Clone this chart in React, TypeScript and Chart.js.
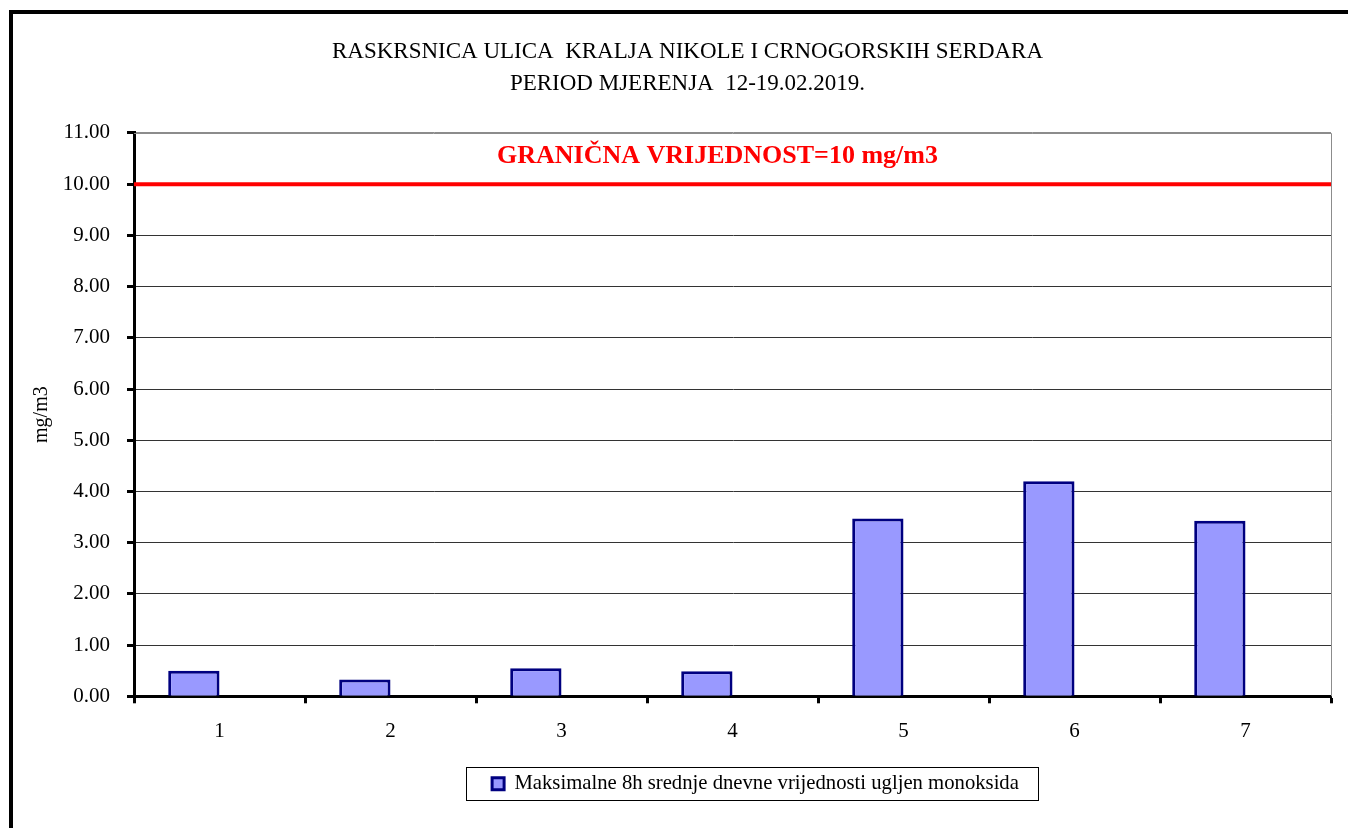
import React, { useEffect, useRef } from "react";
import { Chart, registerables } from "chart.js";

Chart.register(...registerables);

const TITLE_LINES = [
  "RASKRSNICA ULICA  KRALJA NIKOLE I CRNOGORSKIH SERDARA",
  "PERIOD MJERENJA  12-19.02.2019.",
];
const DAYS = ["1", "2", "3", "4", "5", "6", "7"];
const CO_VALUES = [0.5, 0.33, 0.55, 0.49, 3.47, 4.2, 3.43];
// second (empty) series slot that Excel reserves next to each bar
const EMPTY_SERIES = [null, null, null, null, null, null, null];
const SERIES_LABEL = "Maksimalne 8h srednje dnevne vrijednosti ugljen monoksida";
const LIMIT_VALUE = 10;
const LIMIT_LABEL = "GRANIČNA VRIJEDNOST=10 mg/m3";
const Y_MIN = 0;
const Y_MAX = 11;
const Y_STEP = 1;
const Y_TITLE = "mg/m3";

const SERIF = '"Liberation Serif", "Times New Roman", serif';

const limitPlugin = {
  id: "limitLine",
  afterLayout(chart: any) {
    // Excel places the legend and title slightly right of the canvas centre
    const lg = chart.legend;
    if (lg) {
      lg.left += 75;
      lg.right += 75;
    }
    const tb = chart.titleBlock;
    if (tb) {
      tb.left += 7;
      tb.right += 7;
    }
  },
  beforeDatasetsDraw(chart: any) {
    const { ctx, chartArea } = chart;
    const y = chart.scales.y;
    ctx.save();
    ctx.strokeStyle = "#8c8c8c";
    ctx.lineWidth = 1;
    ctx.beginPath();
    ctx.moveTo(chartArea.left, Math.round(chartArea.top) + 0.5);
    ctx.lineTo(Math.round(chartArea.right) + 0.5, Math.round(chartArea.top) + 0.5);
    ctx.lineTo(Math.round(chartArea.right) + 0.5, chartArea.bottom);
    ctx.stroke();
    const py = y.getPixelForValue(LIMIT_VALUE);
    ctx.strokeStyle = "#ff0000";
    ctx.lineWidth = 4;
    ctx.beginPath();
    ctx.moveTo(chartArea.left, py);
    ctx.lineTo(chartArea.right, py);
    ctx.stroke();
    ctx.fillStyle = "#ff0000";
    ctx.font = `bold 26px ${SERIF}`;
    ctx.textAlign = "center";
    ctx.textBaseline = "middle";
    const ty = y.getPixelForValue(LIMIT_VALUE + 0.55);
    ctx.fillText(LIMIT_LABEL, (chartArea.left + chartArea.right) / 2 - 15, ty);
    ctx.restore();
  },
  afterDraw(chart: any) {
    const legend = chart.legend;
    if (!legend || !legend.legendHitBoxes || !legend.legendHitBoxes.length) return;
    const hb = legend.legendHitBoxes[0];
    const { ctx } = chart;
    ctx.save();
    ctx.strokeStyle = "#000";
    ctx.lineWidth = 1;
    const cy = hb.top + hb.height / 2;
    const l = Math.round(hb.left - 26) + 0.5;
    const r = Math.round(hb.left + hb.width + 19) + 0.5;
    const t = Math.round(cy - 17) + 0.5;
    const b = Math.round(cy + 16) + 0.5;
    ctx.strokeRect(l, t, r - l, b - t);
    ctx.restore();
  },
};

export default function App() {
  const canvasRef = useRef<HTMLCanvasElement | null>(null);

  useEffect(() => {
    if (!canvasRef.current) return;
    const chart = new Chart(canvasRef.current, {
      type: "bar",
      data: {
        labels: DAYS,
        datasets: [
          {
            label: SERIES_LABEL,
            data: CO_VALUES,
            backgroundColor: "#9999ff",
            borderColor: "#000080",
            borderWidth: 3,
            categoryPercentage: 0.6,
            barPercentage: 1,
          },
          {
            label: "",
            data: EMPTY_SERIES,
            backgroundColor: "#ffffff",
            borderWidth: 0,
            categoryPercentage: 0.6,
            barPercentage: 1,
          },
        ],
      },
      options: {
        responsive: false,
        animation: false,
        layout: { padding: { top: 14, left: 30, right: 17, bottom: 24 } },
        plugins: {
          tooltip: { enabled: false },
          title: {
            display: true,
            text: TITLE_LINES,
            color: "#000",
            font: { family: SERIF, size: 23, weight: "normal", lineHeight: 1.39 },
            padding: { top: 22, bottom: 33 },
          },
          legend: {
            position: "bottom",
            labels: {
              color: "#000",
              font: { family: SERIF, size: 20.7 },
              boxWidth: 12,
              boxHeight: 12,
              padding: 10,
              filter: (item: any) => item.datasetIndex === 0,
            },
          },
        },
        scales: {
          x: {
            offset: true,
            afterFit: (s: any) => {
              s.height = 67;
            },
            grid: {
              display: true,
              offset: true,
              drawOnChartArea: false,
              drawTicks: true,
              tickLength: 7,
              tickWidth: 3,
              tickColor: "#000",
            },
            border: { display: true, width: 3, color: "#000" },
            ticks: {
              color: "#000",
              font: { family: SERIF, size: 21 },
              padding: 16,
            },
          },
          y: {
            min: Y_MIN,
            max: Y_MAX,
            afterFit: (s: any) => {
              s.width = 104;
            },
            grid: {
              color: (c: any) => (c.tick && c.tick.value === Y_MAX ? "#8c8c8c" : "#333333"),
              lineWidth: 1,
              drawTicks: true,
              tickLength: 7,
              tickWidth: 3,
              tickColor: "#000",
            },
            border: { display: true, width: 3, color: "#000" },
            ticks: {
              stepSize: Y_STEP,
              color: "#000",
              font: { family: SERIF, size: 21 },
              padding: 17,
              callback: (v: any) => Number(v).toFixed(2),
            },
            title: {
              display: true,
              text: Y_TITLE,
              color: "#000",
              font: { family: SERIF, size: 20 },
              padding: { top: 0, bottom: 0 },
            },
          },
        },
      },
      plugins: [limitPlugin],
    } as any);
    return () => chart.destroy();
  }, []);

  return (
    <div
      style={{
        position: "fixed",
        left: 0,
        top: 0,
        width: 1348,
        height: 828,
        overflow: "hidden",
        background: "#fff",
      }}
    >
      <div
        style={{
          position: "absolute",
          left: 9,
          top: 10,
          width: 1400,
          height: 900,
          border: "4px solid #000",
          background: "#fff",
        }}
      />
      <canvas
        ref={canvasRef}
        width={1348}
        height={828}
        style={{ position: "absolute", left: 0, top: 0, width: 1348, height: 828 }}
      />
    </div>
  );
}
